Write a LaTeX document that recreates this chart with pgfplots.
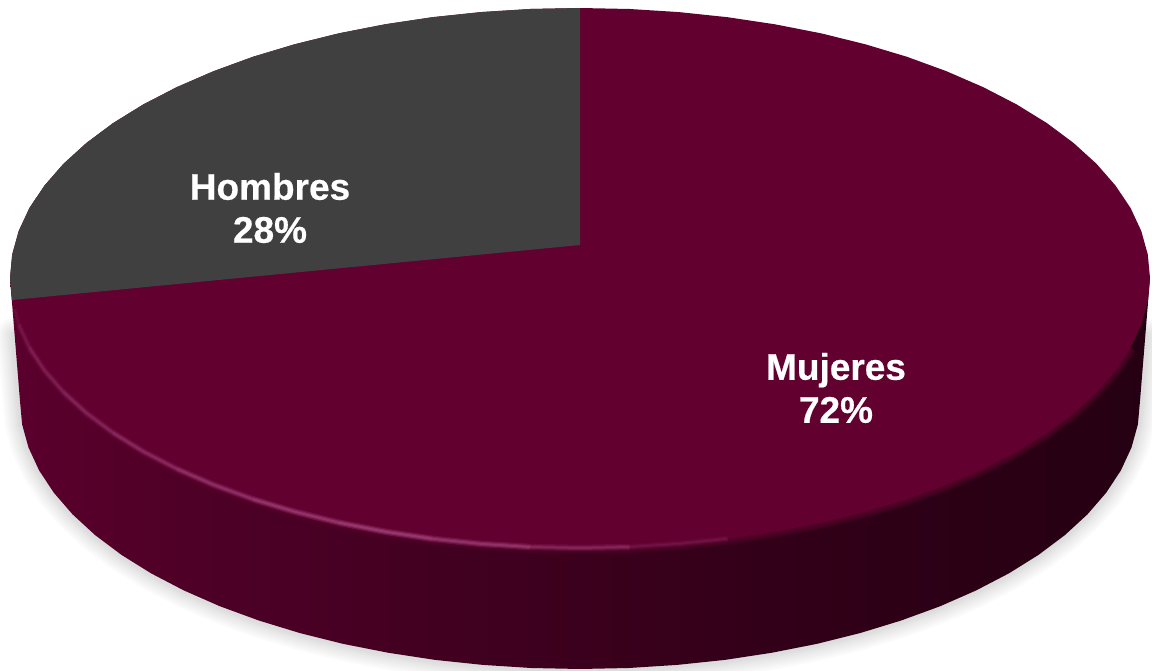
\documentclass[border=0pt]{standalone}
\usepackage{fontspec}
\setmainfont{Liberation Sans}[BoldFeatures={FakeBold=0.5}]
\usepackage{pgfplots}
\usepackage{pgfplotstable}
\pgfplotsset{compat=1.18}

\definecolor{mujeres}{HTML}{620030}
\definecolor{hombres}{HTML}{404040}
\definecolor{rimpink}{HTML}{A04078}

% side wall, path bbox is mapped on 25bp..75bp
\pgfdeclarehorizontalshading{pieside}{100bp}{
  color(0bp)=(mujeres!92!black);
  color(25bp)=(mujeres!92!black);
  color(33bp)=(mujeres!80!black);
  color(50bp)=(mujeres!60!black);
  color(64bp)=(mujeres!46!black);
  color(75bp)=(mujeres!38!black);
  color(100bp)=(mujeres!38!black)
}

% top face outline, counterclockwise from the right
\pgfplotstableread{
x y
1150 278
1147.8 254.5
1141.3 231.1
1130.6 208.1
1115.6 185.7
1096.6 163.9
1073.6 143
1046.9 123.1
1016.6 104.4
983.1 87.1
946.4 71.2
907 56.8
865 44.2
820.9 33.3
774.9 24.3
727.5 17.2
679 12.1
629.7 9
580 8
530.3 9
481 12.1
432.5 17.2
385.1 24.3
339.1 33.3
295 44.2
253 56.8
213.6 71.2
176.9 87.1
143.4 104.4
113.1 123.1
86.4 143
63.4 163.9
44.4 185.7
29.4 208.1
18.7 231.1
12.2 254.5
10 278
12.2 301.5
18.7 324.9
29.4 347.9
44.4 370.3
63.4 392.1
86.4 413
113.1 432.9
143.4 451.6
176.9 468.9
213.6 484.8
253 499.2
295 511.8
339.1 522.7
385.1 531.7
432.5 538.8
481 543.9
530.3 547
580 548
629.7 547
679 543.9
727.5 538.8
774.9 531.7
820.9 522.7
865 511.8
907 499.2
946.4 484.8
983.1 468.9
1016.6 451.6
1046.9 432.9
1073.6 413
1096.6 392.1
1115.6 370.3
1130.6 347.9
1141.3 324.9
1147.8 301.5
1150 278
}\facetable

% Hombres slice
\pgfplotstableread{
x y
580 245
580 8
530.3 9
481 12.1
432.5 17.2
385.1 24.3
339.1 33.3
295 44.2
253 56.8
213.6 71.2
176.9 87.1
143.4 104.4
113.1 123.1
86.4 143
63.4 163.9
44.4 185.7
29.4 208.1
18.7 231.1
12.2 254.5
10 278
12 300
}\hombrestable

% outer edge of the wall
\pgfplotstableread{
x y
1150 278
1140 401
1137.9 424.4
1131.5 447.5
1120.9 470.4
1106.2 492.7
1087.5 514.3
1065 535
1038.8 554.7
1009 573.3
976 590.5
940 606.3
901.2 620.5
860 633.1
816.7 643.9
771.5 652.8
724.9 659.9
677.2 664.9
628.8 668
580 669
531.2 668
482.8 664.9
435.1 659.9
388.5 652.8
343.3 643.9
300 633.1
258.8 620.5
220 606.3
184 590.5
151 573.3
121.2 554.7
95 535
72.5 514.3
53.8 492.7
39.1 470.4
28.5 447.5
22.1 424.4
20 401
10 278
}\sidetable

% shadow edge, both ends turn in behind the pie so no cap shows
\pgfplotstableread{
x y
900 335
1146 335
1140 401
1137.9 424.4
1131.5 447.5
1120.9 470.4
1106.2 492.7
1087.5 514.3
1065 535
1038.8 554.7
1009 573.3
976 590.5
940 606.3
901.2 620.5
860 633.1
816.7 643.9
771.5 652.8
724.9 659.9
677.2 664.9
628.8 668
580 669
531.2 668
482.8 664.9
435.1 659.9
388.5 652.8
343.3 643.9
300 633.1
258.8 620.5
220 606.3
184 590.5
151 573.3
121.2 554.7
95 535
72.5 514.3
53.8 492.7
39.1 470.4
28.5 447.5
22.1 424.4
20 401
14 335
260 335
}\shadowtable

% lower rim, without the two ends where a wide stroke leaves the wall
\pgfplotstableread{
x y
29.4 347.9
44.4 370.3
63.4 392.1
86.4 413
113.1 432.9
143.4 451.6
176.9 468.9
213.6 484.8
253 499.2
295 511.8
339.1 522.7
385.1 531.7
432.5 538.8
481 543.9
530.3 547
580 548
629.7 547
679 543.9
727.5 538.8
774.9 531.7
820.9 522.7
865 511.8
907 499.2
946.4 484.8
983.1 468.9
1016.6 451.6
1046.9 432.9
1073.6 413
1096.6 392.1
1115.6 370.3
1130.6 347.9
}\rimtable

\newcommand{\shadowline}[1]{
  \addplot[draw=black, opacity=0.018, line width=#1pt, line join=round] table {\shadowtable};
}
\newcommand{\rimblur}[1]{
  \addplot[draw=mujeres, opacity=0.25, line width=#1pt, line join=round] table {\rimtable};
}
% highlight on the rim, opacity changes by segment
\newcommand{\rimseg}[2]{
  \addplot[draw=rimpink, opacity=#1*0.30, line width=6.5pt] coordinates {#2};
  \addplot[draw=rimpink, opacity=#1*0.45, line width=4pt] coordinates {#2};
  \addplot[draw=rimpink, opacity=#1*0.60, line width=2pt] coordinates {#2};
}

\begin{document}
\begin{tikzpicture}
\useasboundingbox (0,0) rectangle (1152pt,671pt);
\begin{axis}[
  at={(0,0)},
  anchor=south west,
  scale only axis,
  width=1152pt,
  height=671pt,
  xmin=0, xmax=1152,
  ymin=0, ymax=671,
  y dir=reverse,
  hide axis,
  clip=true,
]
% soft shadow under the pie
\shadowline{34}
\shadowline{29}
\shadowline{24}
\shadowline{19}
\shadowline{14}
\shadowline{10}
\shadowline{6}

\addplot[draw=none, shading=pieside] table {\sidetable};

\rimblur{12}
\rimblur{9}
\rimblur{6}
\rimblur{3}

\addplot[draw=none, fill=mujeres] table {\facetable};
\addplot[draw=none, fill=hombres] table {\hombrestable};

\rimseg{0.15}{(14.5,309) (18.7,324.9)}
\rimseg{0.30}{(18.7,324.9) (29.4,347.9)}
\rimseg{0.40}{(29.4,347.9) (44.4,370.3) (63.4,392.1)}
\rimseg{0.50}{(63.4,392.1) (86.4,413) (113.1,432.9)}
\rimseg{0.60}{(113.1,432.9) (143.4,451.6) (176.9,468.9)}
\rimseg{0.75}{(176.9,468.9) (213.6,484.8) (253,499.2)}
\rimseg{0.90}{(253,499.2) (295,511.8) (339.1,522.7)}
\rimseg{1.00}{(339.1,522.7) (385.1,531.7) (432.5,538.8)}
\rimseg{0.85}{(432.5,538.8) (481,543.9) (530.3,547)}
\rimseg{0.55}{(530.3,547) (580,548) (629.7,547)}
\rimseg{0.25}{(629.7,547) (679,543.9) (727.5,538.8)}

\node[text=white, align=center, font=\fontsize{37}{43}\selectfont\bfseries]
  at (axis cs:270,208) {Hombres\\28\%};
\node[text=white, align=center, font=\fontsize{37}{43}\selectfont\bfseries]
  at (axis cs:836,388) {Mujeres\\72\%};
\end{axis}
\end{tikzpicture}
\end{document}
